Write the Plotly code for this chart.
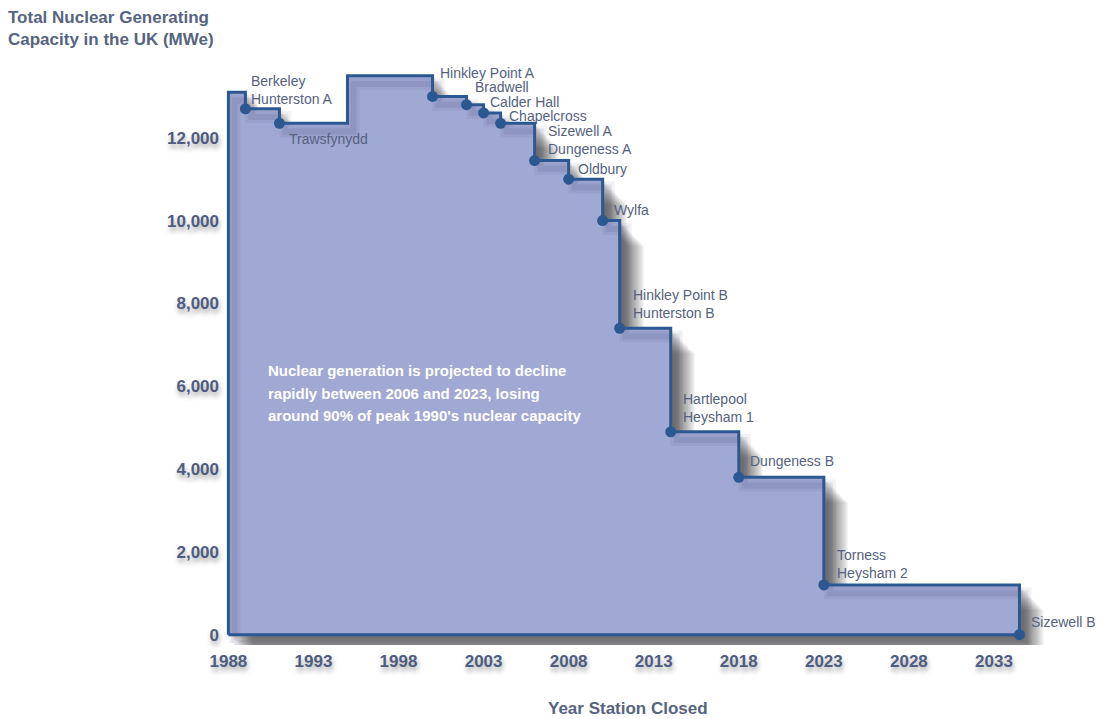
import plotly.graph_objects as go

# ---- data ----
step_years = [1988, 1989, 1991, 1995, 2000, 2002, 2003, 2004, 2006, 2008, 2010, 2011, 2014, 2018, 2023, 2034.5]
capacity_mwe = [13100, 12700, 12350, 13500, 13000, 12800, 12600, 12350, 11450, 11000, 10000, 7400, 4900, 3800, 1200, 0]

closure_years = [1989, 1991, 2000, 2002, 2003, 2004, 2006, 2008, 2010, 2011, 2014, 2018, 2023, 2034.5]
closure_capacity = [12700, 12350, 13000, 12800, 12600, 12350, 11450, 11000, 10000, 7400, 4900, 3800, 1200, 0]
closure_labels = [
    "Berkeley<br>Hunterston A", "Trawsfynydd", "Hinkley Point A", "Bradwell", "Calder Hall",
    "Chapelcross", "Sizewell A<br>Dungeness A", "Oldbury", "Wylfa",
    "Hinkley Point B<br>Hunterston B", "Hartlepool<br>Heysham 1", "Dungeness B",
    "Torness<br>Heysham 2", "Sizewell B",
]

y_tick_values = [0, 2000, 4000, 6000, 8000, 10000, 12000]
y_tick_labels = ["0", "2,000", "4,000", "6,000", "8,000", "10,000", "12,000"]
x_tick_values = [1988, 1993, 1998, 2003, 2008, 2013, 2018, 2023, 2028, 2033]
x_tick_labels = [str(v) for v in x_tick_values]

note_lines = [
    "Nuclear generation is projected to decline",
    "rapidly between 2006 and 2023, losing",
    "around 90% of peak 1990's nuclear capacity",
]

# ---- styles ----
LINE = "#2b5890"
FILL = "#a0a8d4"
LABEL = "#55617f"
TICK = "#4d5c80"
SANS = "Liberation Sans, Arial, sans-serif"
TICK_SHADOW = "1px 4px 5px rgba(0,0,0,0.35)"

# label placement style: (xshift, yshift, xanchor, yanchor)
label_style = [
    (5, 1, "left", "bottom"), (9, -16, "left", "middle"), (6, 14, "left", "bottom"),
    (7, 9, "left", "bottom"), (5, 2, "left", "bottom"), (7, -2, "left", "bottom"),
    (12, 3, "left", "bottom"), (8, 1, "left", "bottom"), (10, 2, "left", "bottom"),
    (12, 6, "left", "bottom"), (11, 6, "left", "bottom"), (10, 7, "left", "bottom"),
    (12, 3, "left", "bottom"), (11, 13, "left", "middle"),
]

# outline polygon (step path closed along the baseline)
px = [step_years[0]] + step_years + [step_years[0]]
py = [0] + capacity_mwe + [0]

fig = go.Figure()

# soft drop shadow: stacked offset copies of the shape
for k in range(1, 22):
    dx = 0.068 * k
    dy = -29 * k
    fig.add_trace(go.Scatter(
        x=[v + dx for v in px], y=[v + dy for v in py],
        mode="lines", line=dict(shape="hv", width=0, color="rgba(0,0,0,0)"),
        fill="toself", fillcolor="rgba(15,15,30,0.045)",
        hoverinfo="skip", showlegend=False,
    ))

# main filled area
fig.add_trace(go.Scatter(
    x=px, y=py, mode="lines",
    line=dict(shape="hv", width=0, color=FILL),
    fill="toself", fillcolor=FILL, hoverinfo="skip", showlegend=False,
))

# soft shadow of the outline on top of the fill
for w, a in [(12, 0.06), (6, 0.08)]:
    fig.add_trace(go.Scatter(
        x=[v + 0.35 for v in px], y=[v - 200 for v in py], mode="lines",
        line=dict(shape="hv", width=w, color=f"rgba(30,30,60,{a})"),
        hoverinfo="skip", showlegend=False,
    ))

# outline
fig.add_trace(go.Scatter(
    x=px, y=py, mode="lines",
    line=dict(shape="hv", width=3, color=LINE),
    hoverinfo="skip", showlegend=False,
))

# closure markers
fig.add_trace(go.Scatter(
    x=closure_years, y=closure_capacity, mode="markers",
    marker=dict(size=11, color=LINE), cliponaxis=False,
    hoverinfo="skip", showlegend=False,
))

annotations = []
for xv, yv, txt, (xs, ys, xa, ya) in zip(closure_years, closure_capacity, closure_labels, label_style):
    annotations.append(dict(
        x=xv, y=yv, xref="x", yref="y", text=txt, showarrow=False,
        xanchor=xa, yanchor=ya, xshift=xs, yshift=ys, align="left", borderpad=0,
        font=dict(family=SANS, size=14, color=LABEL),
    ))

for i, line_txt in enumerate(note_lines):
    annotations.append(dict(
        x=1990.2, y=6370, xref="x", yref="y", text=line_txt, showarrow=False,
        xanchor="left", yanchor="middle", yshift=-22.5 * i,
        font=dict(family=SANS, size=15, color="white", weight="bold"),
    ))

annotations.append(dict(
    x=-0.262, y=1.083, xref="paper", yref="paper",
    text="<b>Total Nuclear Generating<br>Capacity in the UK (MWe)</b>",
    showarrow=False, xanchor="left", yanchor="top", align="left",
    font=dict(family=SANS, size=17, color="#56647f"),
))

annotations.append(dict(
    x=0.481, y=-0.107, xref="paper", yref="paper",
    text="<b>Year Station Closed</b>",
    showarrow=False, xanchor="center", yanchor="middle",
    font=dict(family=SANS, size=17, color="#56647f"),
))

fig.update_layout(
    width=1099, height=719,
    margin=dict(l=225, r=37, t=55, b=74, autoexpand=False),
    paper_bgcolor="white", plot_bgcolor="white",
    annotations=annotations,
    xaxis=dict(
        range=[1987.8, 2037], showgrid=False, zeroline=False, showline=False,
        automargin=False,
        tickmode="array", tickvals=x_tick_values, ticktext=x_tick_labels,
        ticks="", ticklabelstandoff=4,
        tickfont=dict(family=SANS, size=17, color=TICK, weight="bold", shadow=TICK_SHADOW),
    ),
    yaxis=dict(
        range=[-250, 14000], showgrid=False, zeroline=False, showline=False,
        automargin=False,
        tickmode="array", tickvals=y_tick_values, ticktext=y_tick_labels,
        ticks="", ticklabelstandoff=5,
        tickfont=dict(family=SANS, size=17, color=TICK, weight="bold", shadow=TICK_SHADOW),
    ),
)

fig.write_html("out.html")
